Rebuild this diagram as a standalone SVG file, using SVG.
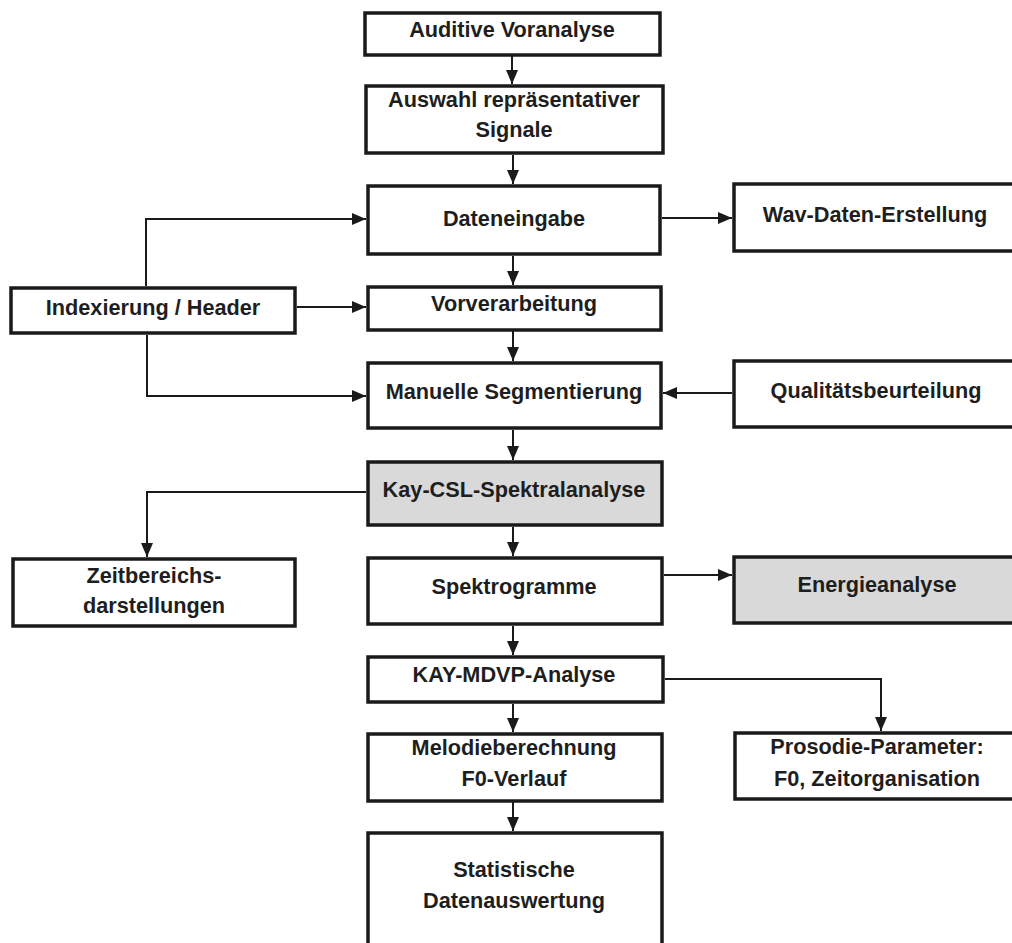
<svg xmlns="http://www.w3.org/2000/svg" width="1012" height="943" viewBox="0 0 1012 943">
<style>
.box{fill:#ffffff;stroke:#1a1a1a;stroke-width:3.5}
.gray{fill:#d9d9d9}
.t{font-family:"Liberation Sans",Arial,sans-serif;font-weight:bold;font-size:21.7px;fill:#1e1e1e;text-anchor:middle}
.c{fill:none;stroke:#1a1a1a;stroke-width:2}
</style>
<defs>
<marker id="ah" markerUnits="userSpaceOnUse" markerWidth="14" markerHeight="12" refX="14" refY="6" orient="auto">
<path d="M0,0 L14,6 L0,12 z" fill="#1a1a1a"/>
</marker>
</defs>
<rect width="1012" height="943" fill="#ffffff"/>
<g id="connectors">
<line class="c" x1="512" y1="56" x2="512" y2="84" marker-end="url(#ah)"/>
<line class="c" x1="513" y1="155" x2="513" y2="184" marker-end="url(#ah)"/>
<line class="c" x1="513" y1="256" x2="513" y2="285" marker-end="url(#ah)"/>
<line class="c" x1="513" y1="331" x2="513" y2="361" marker-end="url(#ah)"/>
<line class="c" x1="513" y1="430" x2="513" y2="460" marker-end="url(#ah)"/>
<line class="c" x1="513" y1="527" x2="513" y2="556" marker-end="url(#ah)"/>
<line class="c" x1="513" y1="626" x2="513" y2="655" marker-end="url(#ah)"/>
<line class="c" x1="513" y1="704" x2="513" y2="732" marker-end="url(#ah)"/>
<line class="c" x1="513" y1="802" x2="513" y2="831" marker-end="url(#ah)"/>
<line class="c" x1="662" y1="218" x2="732" y2="218" marker-end="url(#ah)"/>
<line class="c" x1="297" y1="307" x2="366" y2="307" marker-end="url(#ah)"/>
<line class="c" x1="732" y1="393" x2="663" y2="393" marker-end="url(#ah)"/>
<line class="c" x1="664" y1="575" x2="732" y2="575" marker-end="url(#ah)"/>
<polyline class="c" points="146,286 146,219 366,219" marker-end="url(#ah)"/>
<polyline class="c" points="147,335 147,396 366,396" marker-end="url(#ah)"/>
<polyline class="c" points="366,492 147,492 147,557" marker-end="url(#ah)"/>
<polyline class="c" points="665,679 881,679 881,731" marker-end="url(#ah)"/>
</g>
<g id="n-auditive"><rect class="box" x="365" y="13" width="295" height="42"/><text class="t" x="512" y="37">Auditive Voranalyse</text></g>
<g id="n-auswahl"><rect class="box" x="366" y="86" width="297" height="67"/><text class="t" x="514" y="107">Auswahl repräsentativer</text><text class="t" x="514" y="137">Signale</text></g>
<g id="n-dateneingabe"><rect class="box" x="368" y="186" width="292" height="68"/><text class="t" x="514" y="226">Dateneingabe</text></g>
<g id="n-wav"><rect class="box" x="734" y="184" width="292" height="67"/><text class="t" x="875" y="222">Wav-Daten-Erstellung</text></g>
<g id="n-index"><rect class="box" x="11" y="288" width="284" height="45"/><text class="t" x="153" y="315">Indexierung / Header</text></g>
<g id="n-vorverarbeitung"><rect class="box" x="368" y="287" width="293" height="43"/><text class="t" x="514" y="311">Vorverarbeitung</text></g>
<g id="n-manuelle"><rect class="box" x="368" y="363" width="293" height="65"/><text class="t" x="514" y="399">Manuelle Segmentierung</text></g>
<g id="n-qualitaet"><rect class="box" x="734" y="361" width="292" height="66"/><text class="t" x="876" y="398">Qualitätsbeurteilung</text></g>
<g id="n-kaycsl"><rect class="box gray" x="368" y="462" width="294" height="63"/><text class="t" x="514" y="497">Kay-CSL-Spektralanalyse</text></g>
<g id="n-zeitbereich"><rect class="box" x="13" y="559" width="282" height="67"/><text class="t" x="154" y="583">Zeitbereichs-</text><text class="t" x="154" y="613">darstellungen</text></g>
<g id="n-spektrogramme"><rect class="box" x="368" y="558" width="294" height="66"/><text class="t" x="514" y="594">Spektrogramme</text></g>
<g id="n-energie"><rect class="box gray" x="734" y="557" width="292" height="66"/><text class="t" x="877" y="592">Energieanalyse</text></g>
<g id="n-mdvp"><rect class="box" x="368" y="657" width="295" height="45"/><text class="t" x="514" y="682">KAY-MDVP-Analyse</text></g>
<g id="n-melodie"><rect class="box" x="368" y="734" width="294" height="67"/><text class="t" x="514" y="755">Melodieberechnung</text><text class="t" x="514" y="786">F0-Verlauf</text></g>
<g id="n-prosodie"><rect class="box" x="735" y="733" width="292" height="66"/><text class="t" x="877" y="754">Prosodie-Parameter:</text><text class="t" x="877" y="786">F0, Zeitorganisation</text></g>
<g id="n-statistik"><rect class="box" x="368" y="833" width="294" height="120"/><text class="t" x="514" y="877">Statistische</text><text class="t" x="514" y="908">Datenauswertung</text></g>
</svg>
